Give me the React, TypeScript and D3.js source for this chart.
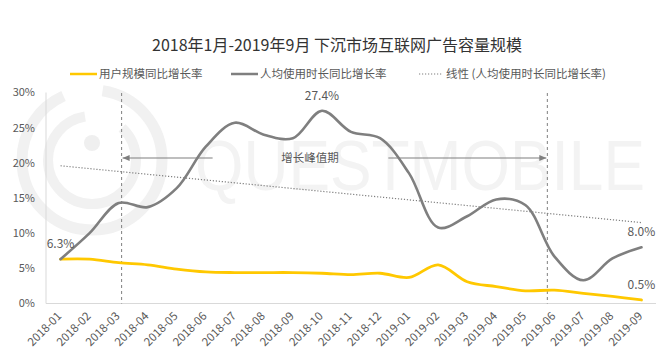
import React from "react";
import * as d3 from "d3";

const categories = [
  "2018-01","2018-02","2018-03","2018-04","2018-05","2018-06","2018-07","2018-08","2018-09","2018-10","2018-11","2018-12",
  "2019-01","2019-02","2019-03","2019-04","2019-05","2019-06","2019-07","2019-08","2019-09",
];
const userGrowth = [6.3, 6.3, 5.8, 5.5, 4.9, 4.5, 4.4, 4.4, 4.4, 4.3, 4.1, 4.3, 3.7, 5.5, 3.1, 2.4, 1.8, 1.9, 1.45, 1.0, 0.5];
const timeGrowth = [6.3, 10.0, 14.3, 13.7, 16.4, 22.3, 25.7, 24.0, 23.5, 27.4, 24.4, 23.5, 18.5, 10.8, 12.4, 14.8, 14.0, 6.7, 3.3, 6.4, 8.0];
const yTicks = [0, 5, 10, 15, 20, 25, 30];
const seriesNames = ["用户规模同比增长率", "人均使用时长同比增长率", "线性 (人均使用时长同比增长率)"];
const title = "2018年1月-2019年9月 下沉市场互联网广告容量规模";
const peakLabel = "增长峰值期";
const peakStart = "2018-03";
const peakEnd = "2019-06";
const labeledTime = [0, 9, 20];
const labeledUser = [20];

const W = 664, H = 359;
const FONT = "'Noto Sans CJK SC', 'Noto Sans', sans-serif";
const YELLOW = "#FFC800";
const GRAY = "#7F7F7F";
const TXT = "#595959";

export default function App() {
  const x = d3.scaleBand<string>().domain(categories).range([46, 656]).padding(0);
  const cx = (c: string) => (x(c) as number) + x.bandwidth() / 2;
  const y = d3.scaleLinear().domain([0, 30]).range([303.5, 92.5]);

  const line = d3
    .line<number>()
    .x((_, i) => cx(categories[i]))
    .y((d) => y(d))
    .curve(d3.curveCatmullRom.alpha(0.5));

  // linear regression trend of time growth
  const n = timeGrowth.length;
  const idx = timeGrowth.map((_, i) => i);
  const mx = d3.mean(idx) as number;
  const my = d3.mean(timeGrowth) as number;
  const slope =
    d3.sum(idx.map((i) => (i - mx) * (timeGrowth[i] - my))) /
    d3.sum(idx.map((i) => (i - mx) * (i - mx)));
  const icpt = my - slope * mx;
  const t0 = icpt;
  const t1 = icpt + slope * (n - 1);

  const dx1 = cx(peakStart) + 3;
  const dx2 = cx(peakEnd) - 7;
  const arrowY = 158;

  return (
    <svg width={W} height={H} style={{ position: "absolute", left: 0, top: 0, background: "#fff" }} fontFamily={FONT}>
      <defs>
        <marker id="ah" markerWidth="8" markerHeight="8" refX="7" refY="4" orient="auto" markerUnits="userSpaceOnUse">
          <path d="M0,1 L7,4 L0,7 Z" fill={GRAY} />
        </marker>
      </defs>
      <rect x={0} y={0} width={W} height={H} fill="#fff" />

      {/* watermark */}
      <g>
        <circle cx={92} cy={160} r={70} fill="none" stroke="#f1f1f1" strokeWidth={11} strokeDasharray="300 40" />
        <circle cx={92} cy={160} r={44} fill="none" stroke="#f1f1f1" strokeWidth={10} strokeDasharray="200 40" />
        <circle cx={92} cy={143} r={8} fill="#efefef" />
        <text x={195} y={190} fontFamily="'Liberation Sans', Arial, sans-serif" fontSize={70} fill="#f3f3f3" textLength={450} lengthAdjust="spacingAndGlyphs">
          QUESTMOBILE
        </text>
      </g>

      {/* title */}
      <text x={337} y={51} textAnchor="middle" fontSize={16} fill="#333">{title}</text>

      {/* legend */}
      <g fontSize={11.5} fill={TXT}>
        <line x1={70} x2={97} y1={74} y2={74} stroke={YELLOW} strokeWidth={2.5} />
        <text x={99} y={78}>{seriesNames[0]}</text>
        <line x1={231} x2={258} y1={74} y2={74} stroke={GRAY} strokeWidth={2.5} />
        <text x={260} y={78}>{seriesNames[1]}</text>
        <line x1={419} x2={443} y1={74} y2={74} stroke={GRAY} strokeWidth={1.2} strokeDasharray="1.2 1.8" />
        <text x={446} y={78}>{seriesNames[2]}</text>
      </g>

      {/* axes */}
      <line x1={46} x2={46} y1={y(30)} y2={y(0)} stroke="#d9d9d9" strokeWidth={1} />
      <line x1={46} x2={656} y1={y(0)} y2={y(0)} stroke="#d9d9d9" strokeWidth={1} />
      {yTicks.map((t) => (
        <text key={t} x={35} y={y(t)} dy="0.35em" textAnchor="end" fontSize={11} fill={TXT}>
          {t}%
        </text>
      ))}
      {categories.map((c) => (
        <text
          key={c}
          transform={`translate(${cx(c) - 1},${314}) rotate(-45)`}
          textAnchor="end"
          dy="0.35em"
          fontSize={11.5}
          fill={TXT}
        >
          {c}
        </text>
      ))}

      {/* dashed markers */}
      <line x1={dx1} x2={dx1} y1={93} y2={y(0)} stroke={GRAY} strokeWidth={1} strokeDasharray="3 3" />
      <line x1={dx2} x2={dx2} y1={93} y2={y(0)} stroke={GRAY} strokeWidth={1} strokeDasharray="3 3" />

      {/* arrows */}
      <line x1={dx1 + 91} x2={dx1 + 1} y1={arrowY} y2={arrowY} stroke={GRAY} strokeWidth={1.2} markerEnd="url(#ah)" />
      <line x1={dx2 - 159} x2={dx2 - 1} y1={arrowY} y2={arrowY} stroke={GRAY} strokeWidth={1.2} markerEnd="url(#ah)" />
      <text x={310} y={arrowY} dy="0.35em" textAnchor="middle" fontSize={11.5} fill={TXT}>{peakLabel}</text>

      {/* trend line */}
      <line
        x1={cx(categories[0])}
        x2={cx(categories[n - 1])}
        y1={y(t0)}
        y2={y(t1)}
        stroke={GRAY}
        strokeWidth={1.2}
        strokeDasharray="1.2 1.8"
      />

      {/* series */}
      <path d={line(userGrowth) as string} fill="none" stroke={YELLOW} strokeWidth={2.8} strokeLinecap="round" />
      <path d={line(timeGrowth) as string} fill="none" stroke={GRAY} strokeWidth={2.6} strokeLinecap="round" />

      {/* data labels */}
      <g fontSize={12} fill={TXT} textAnchor="middle">
        {labeledTime.map((i) => (
          <text key={"t" + i} x={cx(categories[i])} y={y(timeGrowth[i]) - 15} dy="0.35em">
            {timeGrowth[i].toFixed(1)}%
          </text>
        ))}
        {labeledUser.map((i) => (
          <text key={"u" + i} x={cx(categories[i])} y={y(userGrowth[i]) - 15} dy="0.35em">
            {userGrowth[i].toFixed(1)}%
          </text>
        ))}
      </g>
    </svg>
  );
}
